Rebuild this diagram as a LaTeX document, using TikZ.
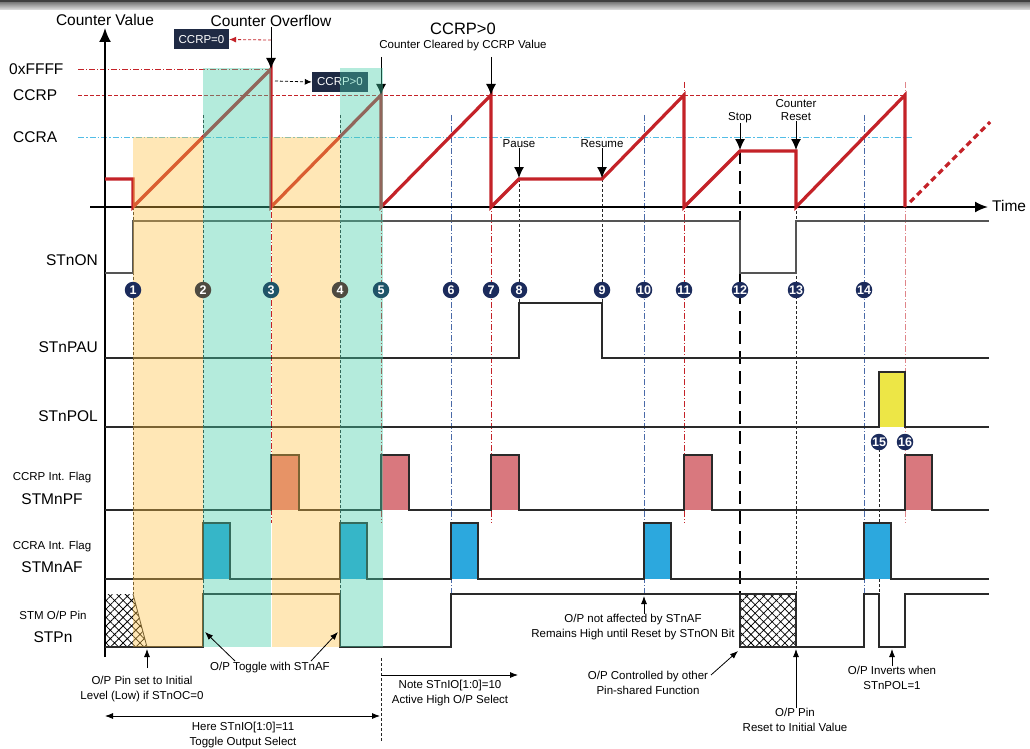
\documentclass[tikz,border=0pt]{standalone}
\usepackage{fontspec}
\setmainfont{Liberation Sans}
\usetikzlibrary{arrows.meta,patterns.meta}
\definecolor{cred}{HTML}{C42228}
\definecolor{navy}{HTML}{1B2B5C}
\definecolor{navyY}{HTML}{4E4A40}
\definecolor{navyT}{HTML}{1F5468}
\definecolor{boxnavy}{HTML}{1F2A44}
\definecolor{shyel}{HTML}{FFC040}
\definecolor{shteal}{HTML}{45CDA8}
\definecolor{pfpink}{HTML}{D9787E}
\definecolor{afblue}{HTML}{2CA8DE}
\definecolor{polyel}{HTML}{EDE646}
\definecolor{ccraline}{HTML}{52BDE6}
\definecolor{evblu}{HTML}{4A6AA8}
\definecolor{sig}{HTML}{2A2A2A}
\tikzset{
  wave/.style={draw=cred, line width=3.2pt},
  sigline/.style={draw=sig, line width=2pt},
  thinsig/.style={draw=sig!80, line width=1.3pt},
  evblack/.style={draw=black!85, line width=0.7pt, dash pattern=on 3pt off 2pt},
  evred/.style={draw=cred, line width=0.7pt, dash pattern=on 6pt off 2pt on 1pt off 2pt},
  evblue/.style={draw=evblu, line width=0.7pt, dash pattern=on 6pt off 2pt on 1pt off 2pt},
  evstop/.style={draw=black, line width=2.4pt, dash pattern=on 13pt off 7pt},
  num/.style={circle, fill=navy, text=white, inner sep=0pt, minimum size=16.5pt, font=\fontsize{12.5}{12.5}\selectfont\bfseries},
  ann/.style={font=\fontsize{11.5}{14.5}\selectfont, align=center, inner sep=0pt},
  lbl/.style={font=\fontsize{15.5}{17}\selectfont, inner sep=0pt},
  sml/.style={font=\fontsize{11.5}{13}\selectfont, inner sep=0pt},
  box/.style={fill=boxnavy, text=white, font=\fontsize{11.5}{12}\selectfont, minimum height=20pt, inner sep=0pt},
  arr/.style={line width=0.8pt, -{Latex[length=8pt,width=6pt]}},
  bigarr/.style={line width=1pt, -{Latex[length=11pt,width=10pt]}},
  shadeA/.style={fill=shyel, opacity=0.38},
  shadeB/.style={fill=shteal, opacity=0.40},
  hatchfill/.style={pattern={Hatch[angle=45,distance=6pt,line width=0.75pt]}},
}
\begin{document}
\begin{tikzpicture}[x=1pt,y=-1pt]
\useasboundingbox (0,0) rectangle (1030,749);
\fill[white] (0,0) rectangle (1030,749);
% top band
\fill[black!75] (0,0) rectangle (1030,2.5);
\shade[top color=black!50, bottom color=black!10] (0,2.5) rectangle (1030,10);

% event lines
\draw[evred] (271,69) -- (271,523);
\draw[evred] (381,82) -- (381,523);
\draw[evred] (491,82) -- (491,523);
\draw[evred] (684,82) -- (684,523);
\draw[evred, draw=cred!55] (905,82) -- (905,523);
\draw[evblue] (451,115) -- (451,594);
\draw[evblue] (644,115) -- (644,594);
\draw[evblue] (864,115) -- (864,594);
\draw[evblack] (133,207) -- (133,594);
\draw[evblack] (203,115) -- (203,594);
\draw[evblack] (340,115) -- (340,594);
\draw[evblack] (519,179) -- (519,303);
\draw[evblack] (602,179) -- (602,303);
\draw[evblack] (796,151) -- (796,594);
\draw[evblack] (879,449) -- (879,594);
\draw[evstop] (740,151) -- (740,594);

% reference levels
\draw[cred, line width=0.7pt, dash pattern=on 6pt off 2pt on 1pt off 2pt] (78,69) -- (271,69);
\draw[cred, line width=0.7pt, dash pattern=on 4pt off 2pt] (78,95) -- (905,95);
\draw[ccraline, line width=0.9pt, dash pattern=on 6pt off 2pt on 1.5pt off 2pt] (78,137) -- (913,137);

% axes
\draw[line width=2pt, -{Latex[length=14pt,width=12pt]}] (105,657) -- (105,28);
\draw[line width=2pt, -{Latex[length=13pt,width=11pt]}] (90,207) -- (988,207);

% counter waveform
\draw[wave] (105,179) -- (133,179) -- (133,207) -- (271,69) -- (271,207) -- (381,95) -- (381,207)
  -- (491,95) -- (491,207) -- (519,179) -- (602,179) -- (684,95) -- (684,207) -- (740,151)
  -- (796,151) -- (796,207) -- (905,95) -- (905,207);
\draw[wave, dash pattern=on 6pt off 4pt] (910,202) -- (990,122);

% STnON
\draw[thinsig] (105,273) -- (133,273) -- (133,221) -- (740,221) -- (740,273) -- (796,273) -- (796,221) -- (989,221);
% STnPAU
\draw[sigline] (105,358) -- (519,358) -- (519,303) -- (602,303) -- (602,358) -- (989,358);
% STnPOL
\fill[polyel] (879,372) rectangle (905,427);
\draw[sigline] (105,427) -- (879,427) -- (879,372) -- (905,372) -- (905,427) -- (989,427);
% STMnPF
\foreach \x in {271,381,491,684,905} \fill[pfpink] (\x,455) rectangle (\x+28,510);
\draw[sigline] (105,510) -- (271,510) -- (271,455) -- (299,455) -- (299,510) -- (381,510) -- (381,455) -- (409,455) -- (409,510)
  -- (491,510) -- (491,455) -- (519,455) -- (519,510) -- (684,510) -- (684,455) -- (712,455) -- (712,510)
  -- (905,510) -- (905,455) -- (932,455) -- (932,510) -- (989,510);
% STMnAF
\foreach \x in {203,340,451,644,864} \fill[afblue] (\x,523) rectangle (\x+27,579);
\draw[sigline] (105,579) -- (203,579) -- (203,523) -- (230,523) -- (230,579) -- (340,579) -- (340,523) -- (367,523) -- (367,579)
  -- (451,579) -- (451,523) -- (478,523) -- (478,579) -- (644,579) -- (644,523) -- (671,523) -- (671,579)
  -- (864,579) -- (864,523) -- (891,523) -- (891,579) -- (989,579);
% STPn
\fill[hatchfill] (105,594) -- (133,594) -- (147,647) -- (105,647) -- cycle;
\draw[sig, line width=0.8pt] (133,594) -- (147,647);
\fill[hatchfill] (740,594) rectangle (796,647);
\draw[sigline] (740,594) rectangle (796,647);
\draw[sigline] (105,647) -- (203,647) -- (203,594) -- (340,594) -- (340,647) -- (451,647) -- (451,594) -- (740,594);
\draw[sigline] (796,647) -- (864,647) -- (864,594) -- (879,594) -- (879,647) -- (905,647) -- (905,594) -- (989,594);

% signal labels
\node[lbl, anchor=east] (lon) at (98,260) {STnON};
\node[lbl, anchor=east] (lpau) at (98,347) {STnPAU};
\node[lbl, anchor=east] (lpol) at (98,416) {STnPOL};
\node[sml] (lpf1) at (52,478) {CCRP Int. Flag};
\node[lbl] (lpf2) at (52,499) {STMnPF};
\node[sml] (laf1) at (52,547) {CCRA Int. Flag};
\node[lbl] (laf2) at (52,567) {STMnAF};
\node[sml] (lp1) at (53,615) {STM O/P Pin};
\node[lbl] (lp2) at (53,637) {STPn};

% counter labels
\node[lbl] (cv) at (105,20) {Counter Value};
\node[lbl] (co) at (271,21) {Counter Overflow};
\node[lbl, anchor=west] (lff) at (9,69) {0xFFFF};
\node[lbl, anchor=west] (lccrp) at (13,95) {CCRP};
\node[lbl, anchor=west] (lccra) at (13,137) {CCRA};
\node[lbl, anchor=west] (ltime) at (992,206) {Time};
\node[lbl, font=\fontsize{16.5}{18}\selectfont] (big) at (463,29) {CCRP>0};
\node[sml] (ccl) at (463,46) {Counter Cleared by CCRP Value};
\node[sml] (pause) at (519,144) {Pause};
\node[sml] (resume) at (602,144) {Resume};
\node[sml] (stop) at (740,118) {Stop};
\node[sml, align=center] (creset) at (796,110) {Counter\\Reset};

\coordinate (pk1) at (271,69);
\coordinate (pk2) at (381,95);
\coordinate (pk3) at (491,95);
\coordinate (ps) at (519,178);
\coordinate (rs) at (602,178);
\coordinate (st) at (740,150);
\coordinate (cr) at (796,150);
\coordinate (a2s) at (381,57);
\coordinate (a3s) at (491,57);
\draw[bigarr] (co.south) -- (pk1);
\draw[bigarr] (a2s) -- (pk2);
\draw[bigarr] (a3s) -- (pk3);
\draw[bigarr] (pause.south) -- (ps);
\draw[bigarr] (resume.south) -- (rs);
\draw[bigarr] (stop.south) -- (st);
\draw[bigarr] (creset.south) -- (cr);

% boxes
\node[box, minimum width=55pt] (b0) at (201.5,39.5) {CCRP=0};
\node[box, minimum width=56pt] (b1) at (340,82) {CCRP>0};
\coordinate (o1) at (271,40);
\coordinate (o2) at (275,81);
\draw[cred, line width=0.8pt, dash pattern=on 3pt off 2pt, -{Latex[length=7pt,width=6pt]}] (o1) -- (b0.east);
\draw[black, line width=0.8pt, dash pattern=on 3pt off 2pt, -{Latex[length=7pt,width=6pt]}] (o2) -- (b1.west);

% shading
\fill[shadeA] (133,137) rectangle (203,647);
\fill[shadeB] (203,68) rectangle (271,647);
\fill[shadeA] (272,137) rectangle (340,647);
\fill[shadeB] (340,68) rectangle (383,647);

% numbered circles
\foreach \n/\x/\c in {1/133/navy,2/203/navyY,3/271/navyT,4/340/navyY,5/381/navyT,6/451/navy,7/491/navy,8/519/navy,9/602/navy,10/644/navy,11/684/navy,12/740/navy,13/796/navy,14/864/navy}
  \node[num, fill=\c] (n\n) at (\x,290) {\n};
\node[num] (n15) at (879,442) {15};
\node[num] (n16) at (905,442) {16};

% annotations
\node[ann] (t1) at (142,689) {O/P Pin set to Initial\\Level (Low) if STnOC=0};
\coordinate (t1s) at (147,668);
\coordinate (t1e) at (147,649);
\draw[arr] (t1s) -- (t1e);

\node[ann] (t2) at (270,668) {O/P Toggle with STnAF};
\coordinate (t2a) at (235,661);
\coordinate (t2ae) at (205,632);
\coordinate (t2b) at (311,661);
\coordinate (t2be) at (338,632);
\draw[arr] (t2a) -- (t2ae);
\draw[arr] (t2b) -- (t2be);

\coordinate (d1) at (381,658);
\coordinate (d2) at (381,742);
\draw[black!85, line width=0.7pt, dash pattern=on 3pt off 2pt] (d1) -- (d2);
\coordinate (n1s) at (381,675);
\coordinate (n1e) at (518,675);
\draw[arr] (n1s) -- (n1e);
\node[ann] (t3) at (450,693) {Note STnIO[1:0]=10\\Active High O/P Select};
\coordinate (h1) at (105,716);
\coordinate (h2) at (380,716);
\draw[line width=0.8pt, {Latex[length=8pt,width=6pt]}-{Latex[length=8pt,width=6pt]}] (h1) -- (h2);
\node[ann] (t4) at (243,735) {Here STnIO[1:0]=11\\Toggle Output Select};

\node[ann] (t5) at (633,627) {O/P not affected by STnAF\\Remains High until Reset by STnON Bit};
\coordinate (t5e) at (644,596);
\draw[arr] (t5.north -| t5e) -- (t5e);

\node[ann] (t6) at (648,683) {O/P Controlled by other\\Pin-shared Function};
\coordinate (t6s) at (711,675);
\coordinate (t6e) at (738,651);
\draw[arr] (t6s) -- (t6e);

\node[ann] (t7) at (795,720) {O/P Pin\\Reset to Initial Value};
\coordinate (t7e) at (796,649);
\draw[arr] (t7.north -| t7e) -- (t7e);

\node[ann] (t8) at (892,678) {O/P Inverts when\\STnPOL=1};
\coordinate (t8e) at (892,649);
\draw[arr] (t8.north -| t8e) -- (t8e);
\end{tikzpicture}
\end{document}
